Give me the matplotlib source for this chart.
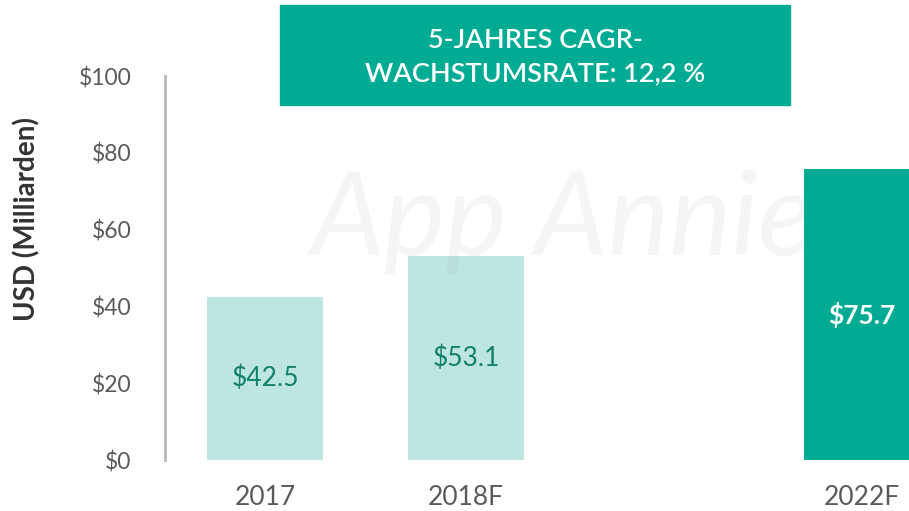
import matplotlib
matplotlib.use("Agg")
import matplotlib.pyplot as plt
from matplotlib.patches import Rectangle

plt.rcParams['font.family'] = ['Lato', 'DejaVu Sans']

# data
years = ["2017", "2018F", "2022F"]
revenue = [42.5, 53.1, 75.7]
bar_labels = ["$42.5", "$53.1", "$75.7"]
y_ticks = [0, 20, 40, 60, 80, 100]
y_tick_labels = ["$0", "$20", "$40", "$60", "$80", "$100"]
cagr_text = "5-JAHRES CAGR-\nWACHSTUMSRATE: 12,2 %"

# layout / styles
positions = [0, 1, 2.97]
bar_colors = ["#bde6e0", "#bde6e0", "#00ab94"]
label_colors = ["#13806b", "#13806b", "white"]
label_weights = ["normal", "normal", "bold"]
teal = "#00ab94"

W, H = 909, 511
fig = plt.figure(figsize=(W / 100, H / 100), dpi=100)
ax = fig.add_axes([165 / W, 51 / H, 1 - 165 / W, (460 - 76) / H])

ax.bar(positions, revenue, width=0.577, color=bar_colors, zorder=2)
for x, v, lab, c, w in zip(positions, revenue, bar_labels, label_colors, label_weights):
    ax.text(x, v / 2, lab, ha='center', va='center', fontsize=19,
            color=c, fontweight=w, zorder=4)

ax.set_xlim(-0.4975, 3.204)
ax.set_ylim(0, 100)
ax.set_yticks(y_ticks)
ax.set_yticklabels(y_tick_labels, fontsize=16.5, color="#5a5a5a")
ax.set_xticks(positions)
ax.set_xticklabels(years, fontsize=19, color="#5a5a5a")
ax.tick_params(axis='y', length=0, pad=24)
ax.tick_params(axis='x', length=0, pad=18)
for s in ['top', 'right', 'bottom']:
    ax.spines[s].set_visible(False)
ax.spines['left'].set_color("#b8b8b8")
ax.spines['left'].set_linewidth(2)
ax.set_ylabel("USD (Milliarden)", fontsize=20, fontweight='bold', color="#333333")
ax.yaxis.set_label_coords(-(165 - 40) / (W - 165), 0.628)

# watermark
fig.text(563 / W, 1 - 222 / H, "App Annie", fontsize=84, fontstyle='italic',
         color="#888888", alpha=0.08, ha='center', va='center', zorder=5)

# CAGR box
fig.patches.append(Rectangle((280 / W, 1 - 105 / H), 510 / W, 100 / H,
                             transform=fig.transFigure, color=teal, zorder=6))
fig.text(535 / W, 1 - 57 / H, cagr_text, ha='center', va='center', fontsize=19.5,
         color='white', fontweight='semibold', linespacing=1.4, zorder=7)

fig.savefig("out.png", dpi=100)
